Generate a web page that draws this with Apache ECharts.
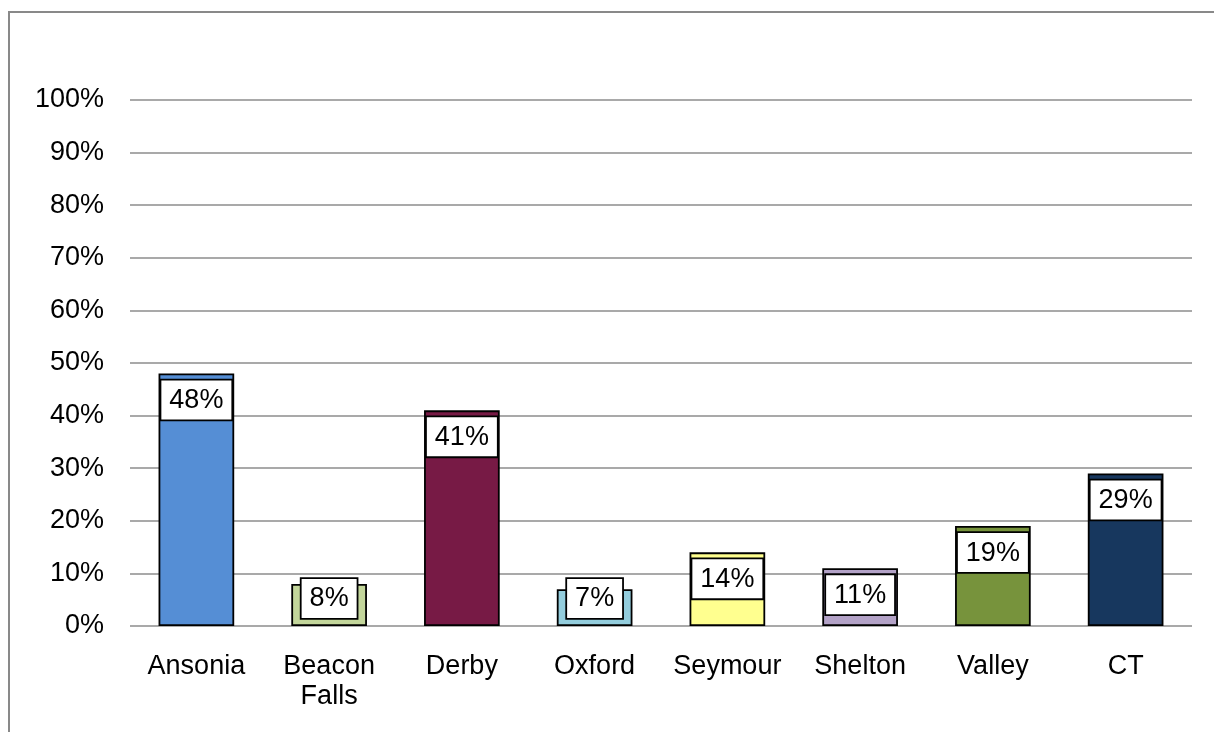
<!DOCTYPE html>
<html><head><meta charset="utf-8">
<script src="https://cdn.jsdelivr.net/npm/echarts@6/dist/echarts.min.js"></script>
<style>html,body{margin:0;padding:0;background:#fff}#c{width:1214px;height:732px}</style>
</head><body><div id="c"></div>
<script>
const categories = ['Ansonia', 'Beacon\nFalls', 'Derby', 'Oxford', 'Seymour', 'Shelton', 'Valley', 'CT'];
const values = [48, 8, 41, 7, 14, 11, 19, 29];
const colors = ['#558ED5', '#C3D69B', '#771A45', '#93CDDD', '#FFFF8F', '#B3A2C7', '#77933C', '#17375E'];
const yTicks = [0, 10, 20, 30, 40, 50, 60, 70, 80, 90, 100];

const font = 'Liberation Sans, Arial, sans-serif';
const chart = echarts.init(document.getElementById('c'), null, {renderer: 'canvas'});
const data = values.map((v, i) => ({
  value: v,
  itemStyle: {color: colors[i]},
  label: v < 10 ? {position: 'insideBottom', distance: 8} : {position: 'insideTop', distance: 7}
}));
chart.setOption({
  animation: false,
  graphic: [{type: 'rect', shape: {x: 9, y: 12, width: 1300, height: 800}, style: {fill: 'none', stroke: '#898989', lineWidth: 2}, silent: true}],
  grid: {left: 130, right: 22, top: 100, bottom: 106},
  xAxis: {
    type: 'category', data: categories,
    axisLine: {show: false}, axisTick: {show: false},
    axisLabel: {fontFamily: font, fontSize: 27, color: '#000', margin: 26, lineHeight: 30, interval: 0}
  },
  yAxis: {
    type: 'value', min: yTicks[0], max: yTicks[yTicks.length - 1], interval: 10,
    axisLine: {show: false}, axisTick: {show: false},
    axisLabel: {fontFamily: font, fontSize: 27, color: '#000', margin: 26, formatter: v => v + '%'},
    splitLine: {lineStyle: {color: '#8c8c8c', width: 1.5}}
  },
  series: [{
    type: 'bar', data: data, barWidth: '57%',
    itemStyle: {borderColor: '#000', borderWidth: 1.8},
    label: {
      show: true, formatter: p => p.value + '%', fontFamily: font, fontSize: 27, color: '#000',
      backgroundColor: '#fff', borderColor: '#000', borderWidth: 1.8, padding: [6, 8, 5, 8], lineHeight: 28
    }
  }]
});
</script></body></html>
